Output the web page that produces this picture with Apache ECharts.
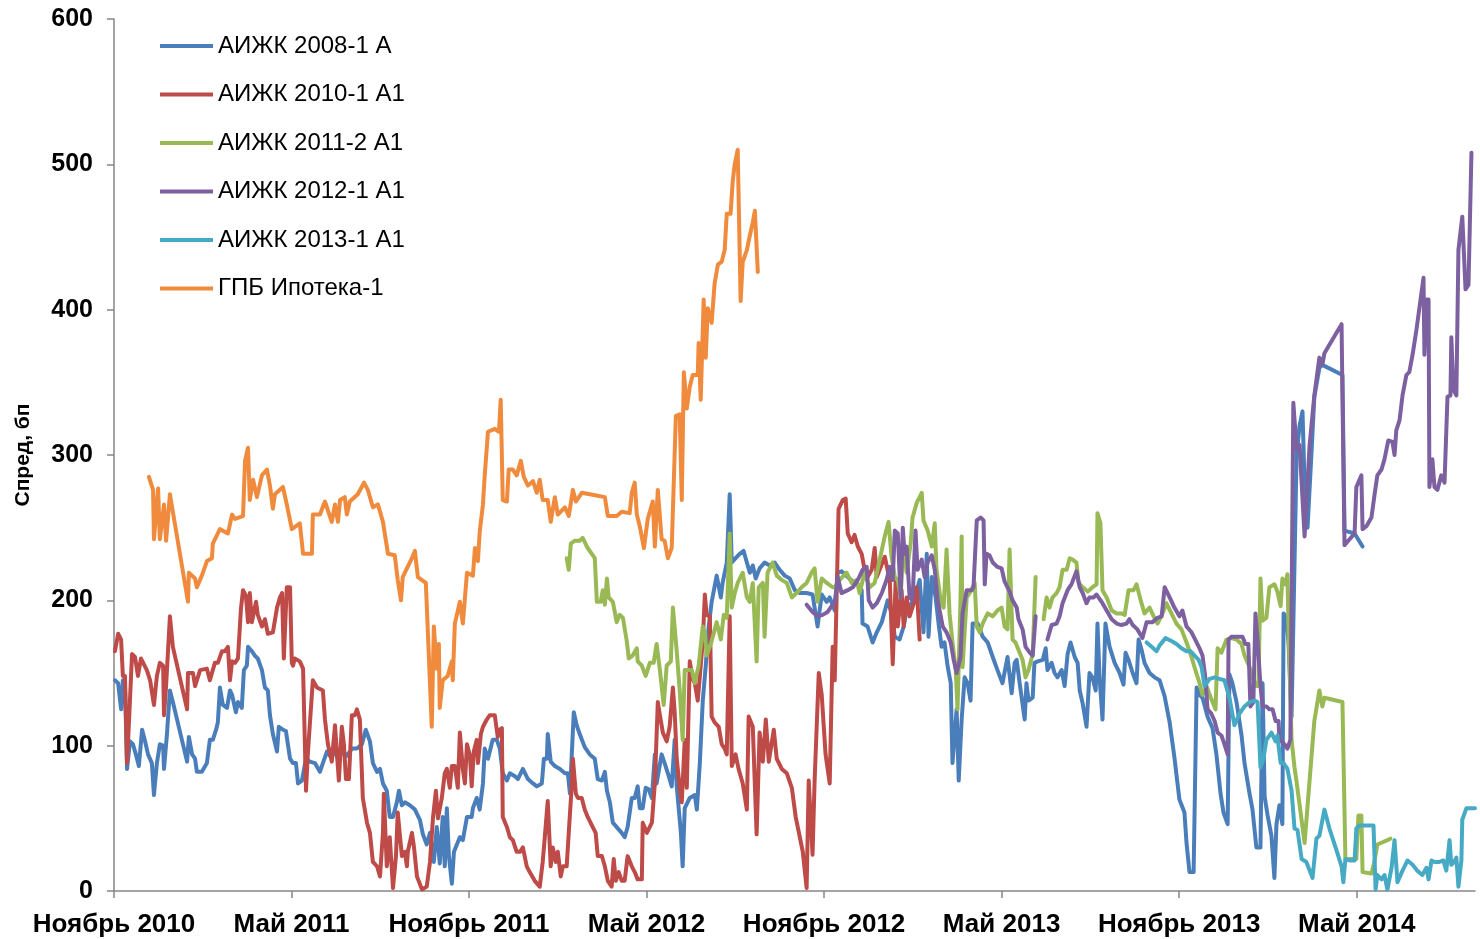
<!DOCTYPE html>
<html>
<head>
<meta charset="utf-8">
<script src="https://cdn.jsdelivr.net/npm/echarts@6/dist/echarts.min.js"></script>
<style>
html, body { margin: 0; padding: 0; background: #ffffff; }
#chart { width: 1480px; height: 939px; }
</style>
</head>
<body>
<div id="chart"></div>
<script>
// x = months since 1 Nov 2010, y = spread, bp
var tickLabels = ['Ноябрь 2010', 'Май 2011', 'Ноябрь 2011', 'Май 2012', 'Ноябрь 2012', 'Май 2013', 'Ноябрь 2013', 'Май 2014'];
var seriesNames = ['АИЖК 2008-1 А', 'АИЖК 2010-1 А1', 'АИЖК 2011-2 А1', 'АИЖК 2012-1 А1', 'АИЖК 2013-1 А1', 'ГПБ Ипотека-1'];

var aijk2008 = [[0.03,145],[0.14,143],[0.24,125],[0.30,145],[0.37,144],[0.44,84],[0.54,103],[0.64,101],[0.74,94],[0.84,86],[0.95,111],[1.05,103],[1.15,94],[1.28,88],[1.35,66],[1.45,88],[1.55,101],[1.66,100],[1.69,84],[1.79,108],[1.89,138],[1.99,130],[2.47,89],[2.53,106],[2.64,94],[2.74,91],[2.80,82],[2.97,82],[3.14,88],[3.24,104],[3.34,104],[3.45,111],[3.51,116],[3.58,140],[3.68,128],[3.82,126],[3.92,138],[3.99,135],[4.12,123],[4.19,130],[4.32,126],[4.39,152],[4.49,155],[4.53,168],[4.66,165],[4.76,162],[4.86,160],[5.00,152],[5.10,140],[5.20,138],[5.27,121],[5.37,108],[5.51,96],[5.57,113],[5.71,111],[5.81,110],[5.95,91],[6.05,88],[6.15,88],[6.22,74],[6.35,76],[6.49,91],[6.62,89],[6.79,88],[6.96,82],[7.06,88],[7.20,96],[7.30,93],[7.40,98],[7.57,91],[7.74,96],[7.87,93],[8.04,98],[8.21,98],[8.38,101],[8.51,111],[8.65,103],[8.75,88],[8.89,82],[8.99,84],[9.09,74],[9.22,69],[9.32,51],[9.43,51],[9.56,61],[9.63,69],[9.73,59],[9.83,61],[10.00,59],[10.17,56],[10.34,49],[10.44,39],[10.57,32],[10.68,40],[10.81,20],[10.91,44],[11.01,19],[11.11,51],[11.18,17],[11.25,57],[11.32,24],[11.42,5],[11.49,27],[11.59,32],[11.69,37],[11.79,35],[11.93,51],[12.09,51],[12.13,57],[12.26,64],[12.36,56],[12.47,74],[12.53,98],[12.64,91],[12.70,90],[12.80,104],[12.94,104],[13.04,98],[13.14,81],[13.28,76],[13.38,81],[13.55,79],[13.65,77],[13.82,84],[13.99,77],[14.16,74],[14.29,72],[14.46,74],[14.53,91],[14.63,91],[14.66,108],[14.76,89],[14.90,86],[15.07,84],[15.24,81],[15.34,81],[15.41,67],[15.47,93],[15.54,123],[15.64,114],[15.74,108],[15.91,99],[16.08,94],[16.25,91],[16.35,77],[16.49,76],[16.59,82],[16.66,69],[16.76,61],[16.86,47],[16.99,44],[17.16,40],[17.26,37],[17.36,44],[17.50,64],[17.60,64],[17.70,72],[17.77,57],[17.87,57],[17.97,71],[18.07,70],[18.18,64],[18.28,94],[18.34,74],[18.51,94],[18.61,88],[18.72,81],[18.85,72],[18.95,104],[19.02,72],[19.16,40],[19.22,17],[19.29,57],[19.46,64],[19.63,66],[19.70,56],[19.80,88],[19.90,131],[20.00,155],[20.10,182],[20.20,199],[20.37,217],[20.51,202],[20.57,212],[20.71,226],[20.81,273],[20.88,226],[21.01,229],[21.15,232],[21.28,234],[21.39,226],[21.49,219],[21.59,224],[21.69,215],[21.82,222],[21.99,226],[22.16,224],[22.33,226],[22.50,221],[22.67,217],[22.84,215],[23.01,207],[23.18,205],[23.41,205],[23.61,204],[23.78,182],[23.92,204],[24.09,199],[24.19,202],[24.36,193],[24.46,219],[24.59,220],[24.80,216],[24.97,213],[25.14,211],[25.27,207],[25.30,184],[25.47,182],[25.64,171],[25.78,178],[25.95,185],[26.15,200],[26.28,191],[26.39,175],[26.55,173],[26.69,182],[26.79,193],[26.96,198],[27.06,202],[27.23,214],[27.36,178],[27.47,232],[27.53,175],[27.64,216],[27.77,202],[27.87,184],[27.97,168],[28.07,171],[28.18,154],[28.28,143],[28.34,88],[28.48,125],[28.55,76],[28.65,118],[28.75,147],[28.85,143],[28.95,131],[29.02,184],[29.19,184],[29.36,175],[29.53,171],[29.70,161],[29.86,152],[30.03,143],[30.20,161],[30.34,136],[30.44,157],[30.51,159],[30.61,143],[30.78,118],[30.84,143],[30.91,131],[31.05,133],[31.11,157],[31.22,158],[31.39,159],[31.49,167],[31.55,152],[31.69,157],[31.79,150],[31.89,147],[32.03,152],[32.13,141],[32.23,163],[32.33,171],[32.47,161],[32.57,157],[32.64,138],[32.74,129],[32.87,113],[32.97,150],[33.07,147],[33.18,138],[33.24,184],[33.31,147],[33.38,127],[33.41,118],[33.51,184],[33.65,168],[33.82,157],[33.99,150],[34.12,142],[34.19,164],[34.29,159],[34.43,150],[34.56,143],[34.63,173],[34.73,166],[34.83,157],[35.00,150],[35.17,147],[35.34,145],[35.51,134],[35.68,116],[35.84,92],[36.01,63],[36.18,54],[36.25,33],[36.35,13],[36.49,13],[36.59,140],[36.69,135],[36.79,133],[36.96,120],[37.13,112],[37.26,94],[37.40,67],[37.50,54],[37.64,46],[37.70,149],[37.80,143],[37.94,130],[38.11,107],[38.21,88],[38.38,67],[38.48,56],[38.61,30],[38.75,30],[38.82,143],[38.89,65],[38.99,52],[39.12,38],[39.22,9],[39.29,46],[39.39,59],[39.49,46],[39.53,191],[39.63,188],[39.70,170],[39.80,120],[39.97,300],[40.07,320],[40.17,330],[40.24,280],[40.34,250],[40.47,300],[40.57,340],[40.74,360],[40.84,362],[41.52,355],[41.59,248],[41.93,246],[42.20,237]];

var aijk2010 = [[0.03,165],[0.14,177],[0.24,173],[0.30,148],[0.37,148],[0.44,88],[0.51,118],[0.61,163],[0.71,161],[0.81,148],[0.91,160],[1.11,152],[1.22,145],[1.35,128],[1.45,148],[1.55,157],[1.66,155],[1.69,121],[1.76,141],[1.89,189],[1.99,168],[2.47,125],[2.50,150],[2.67,150],[2.74,141],[2.91,152],[3.14,153],[3.24,145],[3.41,157],[3.51,157],[3.65,165],[3.75,165],[3.85,168],[3.92,145],[3.99,158],[4.09,157],[4.19,160],[4.29,194],[4.36,207],[4.46,203],[4.53,185],[4.59,205],[4.66,185],[4.80,199],[4.86,190],[5.00,182],[5.10,187],[5.20,177],[5.37,178],[5.51,195],[5.61,202],[5.68,205],[5.74,160],[5.84,209],[5.95,209],[6.01,157],[6.05,155],[6.11,160],[6.28,158],[6.39,153],[6.49,69],[6.55,94],[6.72,145],[6.86,140],[7.06,138],[7.13,118],[7.23,101],[7.36,89],[7.47,114],[7.53,96],[7.60,76],[7.70,113],[7.77,101],[7.84,77],[7.94,77],[8.04,121],[8.14,121],[8.21,125],[8.31,118],[8.41,64],[8.55,47],[8.65,40],[8.75,20],[8.89,17],[8.99,10],[9.09,40],[9.12,67],[9.22,17],[9.32,37],[9.43,2],[9.53,24],[9.59,54],[9.73,24],[9.83,27],[9.90,17],[9.93,27],[10.07,40],[10.14,30],[10.24,10],[10.41,1],[10.57,3],[10.68,20],[10.78,50],[10.88,69],[10.95,50],[11.08,64],[11.18,81],[11.25,84],[11.35,71],[11.42,86],[11.52,86],[11.62,71],[11.69,109],[11.79,84],[11.86,74],[11.93,101],[12.03,93],[12.09,72],[12.16,96],[12.26,104],[12.30,88],[12.40,108],[12.47,113],[12.60,118],[12.70,121],[12.87,121],[12.97,106],[13.04,111],[13.11,112],[13.14,51],[13.28,44],[13.38,37],[13.48,35],[13.61,27],[13.72,27],[13.82,30],[13.95,17],[14.05,13],[14.22,7],[14.39,3],[14.49,20],[14.56,37],[14.66,62],[14.76,17],[14.83,30],[14.93,20],[15.00,27],[15.10,10],[15.17,17],[15.30,17],[15.37,40],[15.47,72],[15.51,91],[15.61,67],[15.68,64],[15.81,64],[15.91,56],[16.01,51],[16.18,44],[16.28,40],[16.35,24],[16.49,24],[16.59,17],[16.69,7],[16.82,3],[16.89,22],[16.96,7],[17.06,13],[17.16,7],[17.26,7],[17.36,24],[17.50,17],[17.60,13],[17.70,8],[17.84,8],[17.87,47],[18.01,40],[18.18,47],[18.28,74],[18.38,130],[18.45,121],[18.55,109],[18.68,103],[18.78,113],[18.89,140],[18.95,123],[19.02,91],[19.12,71],[19.19,61],[19.29,104],[19.36,71],[19.46,158],[19.56,146],[19.63,143],[19.73,131],[19.83,155],[19.90,172],[19.97,204],[20.03,190],[20.14,189],[20.20,120],[20.30,116],[20.44,113],[20.54,101],[20.64,98],[20.71,94],[20.81,189],[20.88,86],[21.01,94],[21.11,84],[21.25,74],[21.39,56],[21.45,120],[21.59,113],[21.72,39],[21.82,109],[21.93,89],[22.03,118],[22.13,89],[22.30,111],[22.40,91],[22.57,84],[22.74,81],[22.91,71],[23.04,51],[23.18,37],[23.28,27],[23.41,2],[23.48,76],[23.61,25],[23.68,76],[23.82,150],[23.92,135],[24.05,94],[24.19,74],[24.29,168],[24.36,145],[24.49,263],[24.63,269],[24.73,270],[24.80,246],[24.93,240],[25.03,245],[25.14,237],[25.27,232],[25.37,221],[25.47,216],[25.61,221],[25.71,236],[25.78,216],[26.05,230],[26.22,214],[26.32,156],[26.42,214],[26.49,182],[26.62,207],[26.69,182],[26.79,202],[26.89,189],[27.06,200],[27.13,209],[27.23,173]];

var aijk2011 = [[15.30,229],[15.37,221],[15.44,239],[15.57,241],[15.74,241],[15.84,243],[16.01,236],[16.25,229],[16.32,199],[16.45,199],[16.52,207],[16.59,197],[16.66,215],[16.72,202],[16.86,199],[16.99,185],[17.09,190],[17.20,188],[17.33,172],[17.40,160],[17.53,162],[17.67,167],[17.70,158],[17.84,155],[17.97,148],[18.11,157],[18.24,157],[18.34,170],[18.45,152],[18.58,128],[18.68,155],[18.82,158],[18.89,195],[19.02,165],[19.12,138],[19.22,104],[19.29,152],[19.43,152],[19.53,152],[19.63,143],[19.76,155],[19.90,182],[19.97,178],[20.03,162],[20.20,172],[20.37,185],[20.51,173],[20.61,190],[20.71,188],[20.81,246],[20.88,195],[20.98,205],[21.08,212],[21.25,219],[21.39,202],[21.49,199],[21.59,212],[21.72,158],[21.79,209],[21.93,212],[21.99,175],[22.09,219],[22.26,226],[22.40,217],[22.57,214],[22.74,212],[22.91,202],[23.07,205],[23.24,209],[23.41,212],[23.58,219],[23.68,222],[23.78,199],[23.92,215],[24.09,212],[24.29,209],[24.36,209],[24.53,214],[24.76,219],[24.93,212],[25.10,214],[25.20,205],[25.37,219],[25.54,209],[25.71,212],[25.88,228],[26.05,244],[26.18,254],[26.28,230],[26.39,216],[26.49,214],[26.59,202],[26.66,239],[26.79,219],[26.93,240],[26.99,257],[27.13,267],[27.30,274],[27.36,255],[27.50,248],[27.64,237],[27.74,253],[27.80,221],[27.94,200],[28.04,195],[28.14,235],[28.24,191],[28.34,171],[28.45,152],[28.51,125],[28.61,200],[28.65,244],[28.68,154],[28.82,202],[28.92,205],[29.09,212],[29.16,182],[29.26,178],[29.36,184],[29.53,191],[29.70,189],[29.86,193],[30.00,195],[30.10,182],[30.20,180],[30.27,235],[30.37,173],[30.47,171],[30.57,166],[30.71,159],[30.81,147],[30.91,152],[31.05,163],[31.15,216],[31.28,'-'],[31.42,187],[31.52,202],[31.62,195],[31.72,202],[31.86,205],[31.96,209],[32.06,221],[32.20,221],[32.30,229],[32.40,228],[32.53,226],[32.60,212],[32.74,209],[32.91,206],[33.07,209],[33.21,211],[33.24,260],[33.34,253],[33.41,207],[33.55,202],[33.72,193],[33.89,191],[34.05,191],[34.16,190],[34.29,207],[34.46,207],[34.56,211],[34.70,200],[34.83,191],[35.00,195],[35.14,189],[35.27,184],[35.44,191],[35.57,198],[35.74,191],[35.91,184],[36.08,180],[36.25,171],[36.42,161],[36.52,154],[36.69,143],[36.79,135],[36.93,141],[37.03,135],[37.13,130],[37.23,125],[37.30,167],[37.43,164],[37.60,173],[37.77,174],[37.94,173],[38.11,170],[38.21,162],[38.38,154],[38.48,147],[38.61,141],[38.68,141],[38.75,215],[38.82,186],[38.95,188],[39.05,209],[39.22,211],[39.32,206],[39.43,196],[39.49,215],[39.59,211],[39.66,218],[39.70,178],[39.80,104],[39.90,85],[39.97,75],[40.24,33],[40.57,117],[40.74,138],[40.84,127],[40.91,133],[41.52,130],[41.62,22],[41.82,22],[41.99,22],[42.06,52],[42.16,52],[42.20,13],[42.50,12],[42.60,20],[42.70,32],[43.04,35],[43.14,36]];

var aijk2012 = [[23.41,197],[23.61,192],[23.78,189],[23.95,190],[24.12,192],[24.29,197],[24.36,198],[24.46,216],[24.59,205],[24.80,207],[24.97,209],[25.14,214],[25.30,221],[25.44,223],[25.51,200],[25.64,195],[25.78,198],[25.95,205],[26.11,214],[26.22,223],[26.32,214],[26.39,248],[26.49,246],[26.59,202],[26.66,250],[26.72,232],[26.79,237],[26.89,202],[26.99,200],[27.09,248],[27.16,221],[27.30,228],[27.40,216],[27.50,226],[27.64,231],[27.74,221],[27.84,200],[28.01,182],[28.14,178],[28.28,171],[28.38,159],[28.48,150],[28.61,161],[28.68,191],[28.82,207],[28.99,207],[29.05,209],[29.16,255],[29.29,257],[29.39,255],[29.43,211],[29.49,232],[29.59,231],[29.70,226],[29.86,223],[30.00,222],[30.10,213],[30.27,206],[30.37,200],[30.51,195],[30.57,187],[30.71,180],[30.81,168],[30.95,164],[31.05,162],[31.15,189],[31.35,'-'],[31.55,173],[31.69,183],[31.86,184],[31.96,189],[32.06,198],[32.23,207],[32.36,211],[32.53,220],[32.64,209],[32.74,205],[32.87,198],[32.97,202],[33.11,202],[33.21,204],[33.38,199],[33.55,193],[33.72,187],[33.89,184],[34.05,183],[34.22,184],[34.32,187],[34.43,183],[34.59,180],[34.76,174],[34.90,185],[35.10,185],[35.27,188],[35.41,189],[35.51,209],[35.68,202],[35.84,195],[36.01,189],[36.11,193],[36.25,182],[36.42,178],[36.59,171],[36.69,167],[36.79,162],[36.89,146],[36.96,125],[37.09,122],[37.20,117],[37.30,109],[37.43,107],[37.53,101],[37.64,94],[37.67,173],[37.77,175],[37.94,175],[38.14,175],[38.24,170],[38.34,170],[38.41,127],[38.51,130],[38.58,191],[38.65,173],[38.75,141],[38.82,127],[38.95,127],[39.05,125],[39.16,125],[39.26,117],[39.36,117],[39.39,104],[39.56,101],[39.66,98],[39.76,104],[39.86,336],[39.97,304],[40.07,307],[40.24,244],[40.41,307],[40.57,341],[40.74,367],[40.84,362],[40.91,370],[41.49,390],[41.52,341],[41.59,238],[41.76,242],[41.93,246],[41.99,278],[42.16,286],[42.20,249],[42.33,251],[42.50,257],[42.60,272],[42.70,286],[42.84,290],[42.94,297],[43.07,310],[43.21,309],[43.28,300],[43.34,317],[43.45,324],[43.55,341],[43.68,355],[43.78,357],[43.89,369],[44.02,386],[44.16,407],[44.26,422],[44.29,369],[44.36,407],[44.43,407],[44.46,278],[44.56,297],[44.63,278],[44.73,276],[44.86,286],[44.97,281],[45.07,340],[45.17,341],[45.20,381],[45.27,345],[45.37,341],[45.44,441],[45.57,464],[45.68,414],[45.78,417],[45.88,508]];

var aijk2013 = [[34.90,171],[35.07,168],[35.24,165],[35.34,169],[35.54,174],[35.74,172],[35.91,170],[36.08,167],[36.25,165],[36.39,165],[36.52,162],[36.66,159],[36.76,154],[36.86,141],[37.03,146],[37.20,147],[37.36,146],[37.53,145],[37.70,133],[37.87,114],[38.04,122],[38.21,127],[38.38,130],[38.55,131],[38.65,130],[38.75,85],[38.85,91],[38.95,104],[39.12,109],[39.26,103],[39.32,107],[39.43,88],[39.53,88],[39.66,84],[39.80,69],[39.90,43],[40.00,42],[40.14,22],[40.30,20],[40.51,9],[40.64,36],[40.74,38],[40.91,56],[41.08,43],[41.32,28],[41.49,17],[41.55,6],[41.62,22],[41.76,21],[41.93,21],[41.99,43],[42.09,45],[42.57,45],[42.64,1],[42.70,11],[42.84,8],[42.94,11],[43.04,1],[43.18,16],[43.28,35],[43.38,6],[43.55,14],[43.72,21],[43.89,18],[44.05,14],[44.22,11],[44.36,16],[44.43,8],[44.53,21],[44.63,20],[44.80,20],[44.93,21],[45.03,14],[45.14,35],[45.20,18],[45.30,20],[45.37,23],[45.44,3],[45.54,21],[45.57,49],[45.71,57],[46.00,57]];

var gpbIpoteka1 = [[1.18,285],[1.32,276],[1.35,242],[1.49,277],[1.55,242],[1.69,266],[1.76,241],[1.89,273],[2.50,199],[2.53,219],[2.74,215],[2.80,209],[2.97,217],[3.14,227],[3.31,229],[3.34,239],[3.58,249],[3.85,246],[3.99,259],[4.09,256],[4.36,258],[4.43,296],[4.53,305],[4.59,269],[4.70,283],[4.83,271],[5.00,286],[5.17,290],[5.27,279],[5.37,263],[5.44,273],[5.71,278],[5.84,266],[6.01,249],[6.28,253],[6.39,232],[6.69,232],[6.72,259],[6.96,259],[7.13,268],[7.36,254],[7.47,266],[7.57,254],[7.64,269],[7.80,271],[7.87,259],[7.97,268],[8.24,273],[8.45,281],[8.58,276],[8.75,264],[8.92,266],[9.09,254],[9.26,232],[9.49,231],[9.59,214],[9.70,200],[9.76,216],[9.90,222],[10.07,229],[10.17,234],[10.27,216],[10.54,212],[10.74,113],[10.81,182],[10.91,153],[10.98,170],[11.01,126],[11.11,145],[11.28,148],[11.42,158],[11.45,145],[11.52,184],[11.69,199],[11.79,184],[11.93,219],[12.13,217],[12.20,236],[12.30,227],[12.36,247],[12.47,266],[12.53,286],[12.64,316],[12.87,318],[13.01,316],[13.07,338],[13.14,269],[13.28,268],[13.34,290],[13.48,290],[13.61,286],[13.75,296],[13.85,285],[13.99,279],[14.16,282],[14.29,274],[14.39,283],[14.49,269],[14.66,269],[14.76,254],[14.90,271],[15.00,259],[15.24,264],[15.37,258],[15.51,276],[15.61,268],[15.81,274],[16.08,273],[16.35,272],[16.59,271],[16.69,258],[16.99,258],[17.16,261],[17.43,260],[17.50,274],[17.60,281],[17.67,259],[17.77,251],[17.91,236],[18.04,256],[18.21,268],[18.28,237],[18.38,276],[18.51,242],[18.61,241],[18.72,229],[18.85,236],[18.99,327],[19.12,328],[19.19,269],[19.26,357],[19.36,332],[19.46,347],[19.56,355],[19.73,355],[19.76,377],[19.83,338],[19.93,407],[20.00,367],[20.07,401],[20.20,391],[20.30,418],[20.41,431],[20.54,433],[20.64,441],[20.71,466],[20.84,466],[20.91,488],[20.98,500],[21.08,510],[21.18,406],[21.25,433],[21.39,441],[21.49,451],[21.59,460],[21.66,468],[21.76,426]];

var seriesColors = ['#4A7EBB', '#BE4B48', '#98B954', '#7D60A0', '#46AAC5', '#F08A3C'];
var seriesData = [aijk2008, aijk2010, aijk2011, aijk2012, aijk2013, gpbIpoteka1];
var tickValues = [0, 6, 12, 18, 24, 30, 36, 42];

var myChart = echarts.init(document.getElementById('chart'));

var seriesList = [];
for (var i = 0; i < seriesNames.length; i++) {
	seriesList.push({
		name: seriesNames[i],
		type: 'line',
		data: seriesData[i],
		showSymbol: false,
		symbol: 'none',
		connectNulls: false,
		lineStyle: { color: seriesColors[i], width: 4, cap: 'round', join: 'round' },
		itemStyle: { color: seriesColors[i] },
		emphasis: { disabled: true }
	});
}

var option = {
	animation: false,
	backgroundColor: '#ffffff',
	grid: { left: 114, right: 5, top: 19, bottom: 48 },
	legend: {
		orient: 'vertical',
		left: 155,
		top: 29,
		icon: 'rect',
		itemWidth: 53,
		itemHeight: 4,
		itemGap: 24.5,
		data: seriesNames,
		textStyle: { fontFamily: 'Liberation Sans, Arial, sans-serif', fontSize: 24, lineHeight: 24, color: '#000000' }
	},
	xAxis: {
		type: 'value',
		min: 0,
		max: 46,
		interval: 6,
		splitLine: { show: false },
		axisLine: { lineStyle: { color: '#868686', width: 1.5 } },
		axisTick: { show: true, length: 7, customValues: tickValues, lineStyle: { color: '#868686', width: 1.5 } },
		axisLabel: {
			customValues: tickValues,
			margin: 21,
			fontFamily: 'Liberation Sans, Arial, sans-serif',
			fontSize: 26,
			fontWeight: 'bold',
			color: '#000000',
			formatter: function(v) {
				var k = Math.round(v / 6);
				return (v % 6 === 0 && tickLabels[k]) ? tickLabels[k] : '';
			}
		}
	},
	yAxis: {
		type: 'value',
		min: 0,
		max: 600,
		interval: 100,
		name: 'Спред, бп',
		nameLocation: 'middle',
		nameRotate: 90,
		nameGap: 80,
		nameTextStyle: { fontFamily: 'Liberation Sans, Arial, sans-serif', fontSize: 21, fontWeight: 'bold', color: '#000000' },
		splitLine: { show: false },
		axisLine: { show: true, lineStyle: { color: '#868686', width: 1.5 } },
		axisTick: { show: true, length: 7, lineStyle: { color: '#868686', width: 1.5 } },
		axisLabel: { margin: 21, fontFamily: 'Liberation Sans, Arial, sans-serif', fontSize: 25, fontWeight: 'bold', color: '#000000' }
	},
	series: seriesList
};

myChart.setOption(option);
</script>
</body>
</html>
